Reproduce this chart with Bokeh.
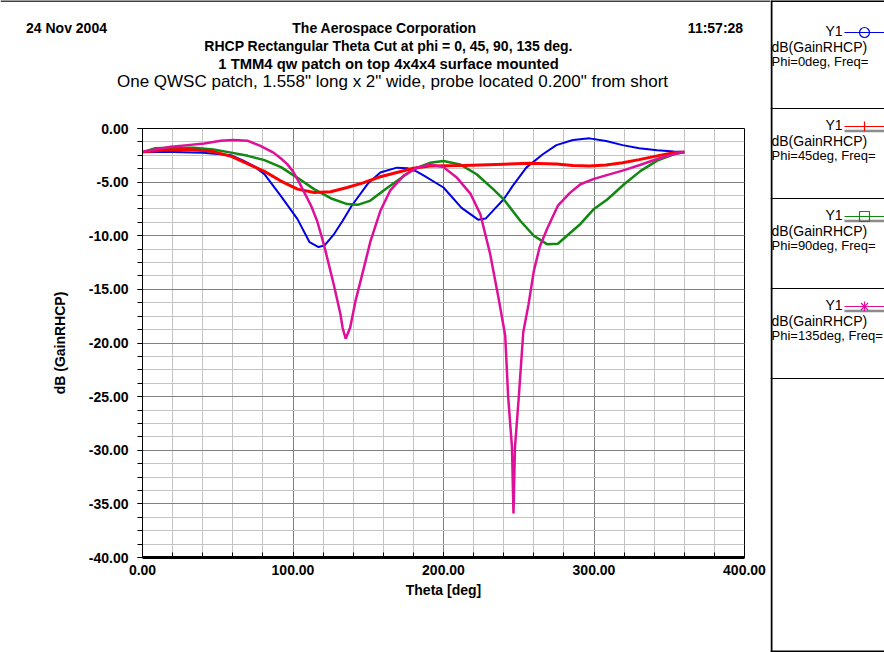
"""RHCP theta cut, phi = 0/45/90/135 deg (HFSS style report)."""
from bokeh.core.properties import value
from bokeh.embed import file_html
from bokeh.layouts import column, row
from bokeh.models import PrintfTickFormatter, Range1d, SingleIntervalTicker
from bokeh.plotting import figure
from bokeh.resources import INLINE

# --- data ---------------------------------------------------------------
theta_phi0 = [0, 20, 40, 52, 59, 67, 74, 81, 92, 103, 111, 117, 121, 127, 133,
              139, 150, 158, 169, 176, 182, 187, 200, 212, 223, 228, 234, 240,
              246, 255, 266, 275, 286, 297, 308, 319, 330, 342, 353, 360]
gain_phi0 = [-2.2, -2.2, -2.25, -2.4, -2.5, -3.0, -3.5, -4.25, -6.3, -8.45,
             -10.6, -11.05, -10.9, -9.9, -8.6, -7.2, -5.1, -4.1, -3.65, -3.7,
             -4.0, -4.4, -5.5, -7.4, -8.5, -8.4, -7.5, -6.6, -5.35, -3.65,
             -2.4, -1.55, -1.07, -0.92, -1.17, -1.55, -1.85, -2.03, -2.15, -2.2]

theta_phi45 = [0, 15, 30, 45, 59, 70, 81, 92, 103, 114, 125, 136, 147, 158,
               169, 180, 191, 213, 235, 257, 275, 286, 297, 308, 319, 330, 342,
               353, 360]
gain_phi45 = [-2.2, -2.0, -1.95, -2.1, -2.6, -3.3, -4.0, -4.9, -5.65, -5.97,
              -5.9, -5.5, -5.05, -4.5, -4.1, -3.7, -3.5, -3.45, -3.35, -3.25,
              -3.3, -3.45, -3.5, -3.4, -3.2, -2.9, -2.55, -2.25, -2.2]

theta_phi90 = [0, 8, 20, 34, 47, 59, 70, 81, 92, 103, 114, 125, 136, 143, 151,
               160, 169, 180, 191, 200, 211, 222, 233, 240, 251, 260, 269, 276,
               282, 291, 300, 309, 320, 331, 342, 353, 360]
gain_phi90 = [-2.2, -1.85, -1.8, -1.8, -1.95, -2.25, -2.55, -2.95, -3.6, -4.6,
              -5.65, -6.5, -7.05, -7.12, -6.75, -5.8, -4.9, -3.8, -3.2, -3.03,
              -3.35, -4.27, -5.65, -6.6, -8.6, -10.0, -10.8, -10.75, -10.0,
              -8.9, -7.5, -6.6, -5.2, -3.95, -3.0, -2.4, -2.2]

theta_phi135 = [0, 8, 19, 30, 41, 52, 60, 70, 78, 87, 92, 96, 100, 104, 108,
                112, 116, 120.5, 127, 131.5, 133, 135, 138, 141.5, 146, 151.5,
                158, 164.5, 173.5, 182.5, 191, 200, 209, 218, 224.5, 231, 236.5,
                241, 243, 245.5, 246.5, 247.5, 250, 253, 256.5, 260, 264, 269,
                276, 284, 291, 300, 308.5, 319.5, 330.5, 341.5, 352.5, 360]
gain_phi135 = [-2.2, -1.95, -1.7, -1.55, -1.4, -1.15, -1.07, -1.15, -1.6,
               -2.25, -2.8, -3.3, -4.0, -5.0, -6.1, -7.2, -8.6, -10.8, -14.5,
               -17.3, -18.6, -19.6, -18.55, -16.1, -13.6, -10.5, -7.7, -5.8,
               -4.4, -3.65, -3.35, -3.6, -4.6, -6.1, -8.0, -11.7, -15.75, -19.3,
               -25.1, -29.7, -35.9, -29.7, -25.1, -19.0, -16.4, -13.3, -11.0,
               -9.3, -7.2, -6.0, -5.2, -4.7, -4.35, -3.9, -3.4, -2.87, -2.4,
               -2.2]

series_phi = ["Phi=0deg", "Phi=45deg", "Phi=90deg", "Phi=135deg"]
series_colors = ["#0000e6", "#ff0000", "#118811", "#dd1199"]
series_widths = [2, 3, 2.5, 2.5]
series_markers = ["circle", "cross", "square", "asterisk"]
series_freq = "Freq="   # the value is cut off in the report
series_expr = "dB(GainRHCP)"

header_date = "24 Nov 2004"
header_time = "11:57:28"
header_lines = [
    "The Aerospace Corporation",
    "RHCP Rectangular Theta Cut at phi = 0, 45, 90, 135 deg.",
    "1 TMM4 qw patch on top 4x4x4 surface mounted",
    "One QWSC patch, 1.558\" long x 2\" wide, probe located 0.200\" from short",
]
x_title = "Theta [deg]"
y_title = "dB (GainRHCP)"

FONT = "Liberation Sans"

W, H = 884, 652          # whole report
PLOT_W = 770             # left part: header + plot; right part: legend panel
HEAD_H = 100
FL, FR, FT, FB = 142, 744, 128, 557   # plot frame on the page


def panel(width, height, x0, y0):
    """Blank figure whose data units are page pixels (y downwards)."""
    f = figure(
        width=width,
        height=height,
        x_range=Range1d(x0, x0 + width),
        y_range=Range1d(y0 + height, y0),
        output_backend="svg",
        toolbar_location=None,
        tools="",
        x_axis_type=None,
        y_axis_type=None,
        min_border=0,
        outline_line_color=None,
        background_fill_color="white",
        border_fill_color="white",
    )
    return f


# --- header -----------------------------------------------------------------
hdr = panel(PLOT_W, HEAD_H, 0, 0)
hdr.segment(x0=[0], y0=[0.5], x1=[PLOT_W], y1=[0.5], line_color="black",
            line_width=1.5)
hdr.text(x=[66, 384, 715, 388], y=[27, 27, 27, 45],
         text=[header_date, header_lines[0], header_time, header_lines[1]],
         text_align="center", text_baseline="middle", text_font=value(FONT),
         text_font_style="bold", text_font_size="14px", text_color="black")
hdr.text(x=[388], y=[63], text=[header_lines[2]], text_align="center",
         text_baseline="middle", text_font=value(FONT),
         text_font_style="bold", text_font_size="14.8px", text_color="black")
hdr.text(x=[392], y=[81], text=[header_lines[3]], text_align="center",
         text_baseline="middle", text_font=value(FONT), text_font_size="17px",
         text_color="black")

# --- main plot ------------------------------------------------------------
p = figure(
    width=PLOT_W,
    height=H - HEAD_H,
    x_range=Range1d(0, 400),
    y_range=Range1d(-40, 0),
    output_backend="svg",
    toolbar_location=None,
    tools="",
    min_border_left=FL,
    min_border_right=PLOT_W - FR,
    min_border_top=FT - HEAD_H,
    min_border_bottom=H - FB,
    background_fill_color="white",
    border_fill_color="white",
    outline_line_color="black",
)

xticker = SingleIntervalTicker(interval=100, num_minor_ticks=5)
yticker = SingleIntervalTicker(interval=5, num_minor_ticks=4)
p.xaxis.ticker = xticker
p.yaxis.ticker = yticker
p.xgrid.ticker = xticker
p.ygrid.ticker = yticker
for g in (p.xgrid, p.ygrid):
    g.grid_line_color = "#808080"
    g.minor_grid_line_color = "#c4c4c4"

for ax in (p.xaxis, p.yaxis):
    ax.formatter = PrintfTickFormatter(format="%.2f")
    ax.axis_line_color = "black"
    ax.major_tick_line_color = "black"
    ax.minor_tick_line_color = "black"
    ax.major_label_text_font = FONT
    ax.major_label_text_font_style = "bold"
    ax.major_label_text_font_size = "14px"
    ax.major_label_text_color = "black"
    ax.axis_label_text_font = FONT
    ax.axis_label_text_font_style = "bold"
    ax.axis_label_text_font_size = "14px"
    ax.axis_label_text_color = "black"

p.xaxis.axis_label = x_title
p.yaxis.axis_label = y_title

p.xaxis.axis_line_width = 3
p.xaxis.major_tick_in = 5
p.xaxis.major_tick_out = 0
p.xaxis.minor_tick_in = 5
p.xaxis.minor_tick_out = 0
p.xaxis.major_label_standoff = 7
p.xaxis.axis_label_standoff = 4

p.yaxis.axis_line_width = 1
p.yaxis.major_tick_in = 0
p.yaxis.major_tick_out = 5
p.yaxis.minor_tick_in = 0
p.yaxis.minor_tick_out = 5
p.yaxis.major_label_standoff = 9
p.yaxis.axis_label_standoff = 18

curves = [
    (theta_phi0, gain_phi0, 0),
    (theta_phi90, gain_phi90, 2),
    (theta_phi45, gain_phi45, 1),
    (theta_phi135, gain_phi135, 3),
]
for xs, ys, i in curves:
    p.line(xs, ys, line_color=series_colors[i], line_width=series_widths[i])

# --- legend panel on the right --------------------------------------------
lg = panel(W - PLOT_W, H, PLOT_W, 0)

box_lines = [108, 198, 288, 378]
entry_y = [30, 124, 214, 304]

lg.segment(x0=[771, 770, 770], y0=[0, 0.5, 651], x1=[771, W, W],
           y1=[H, 0.5, 651], line_color="black", line_width=2)
lg.segment(x0=[770] * 4, y0=box_lines, x1=[W] * 4, y1=box_lines,
           line_color="black", line_width=1)
lg.segment(x0=[844] * 4, y0=[y + 2 for y in entry_y], x1=[W] * 4,
           y1=[y + 2 for y in entry_y], line_color=series_colors, line_width=1)
lg.segment(x0=[844] * 3, y0=[y + 6.5 for y in entry_y[1:]], x1=[W] * 3,
           y1=[y + 6.5 for y in entry_y[1:]], line_color="#8c8c8c",
           line_width=2.5)
for i, y in enumerate(entry_y):
    lg.scatter([864], [y + 2], marker=series_markers[i], size=10,
               line_color=series_colors[i], fill_color=None, line_width=1.2)

lg.text(x=[842] * 4, y=entry_y, text=["Y1"] * 4, text_align="right",
        text_baseline="middle", text_font=value(FONT), text_font_size="14px",
        text_color="black")
lg.text(x=[771] * 4, y=[y + 16 for y in entry_y], text=[series_expr] * 4,
        text_align="left", text_baseline="middle", text_font=value(FONT),
        text_font_size="14px", text_color="black")
lg.text(x=[771] * 4, y=[y + 31 for y in entry_y],
        text=[f"{ph}, {series_freq}" for ph in series_phi], text_align="left",
        text_baseline="middle", text_font=value(FONT), text_font_size="13px",
        text_color="black")

layout = row(column(row(hdr), row(p), spacing=0), column(lg), spacing=0)
open("out.html", "w").write(file_html(layout, INLINE))
